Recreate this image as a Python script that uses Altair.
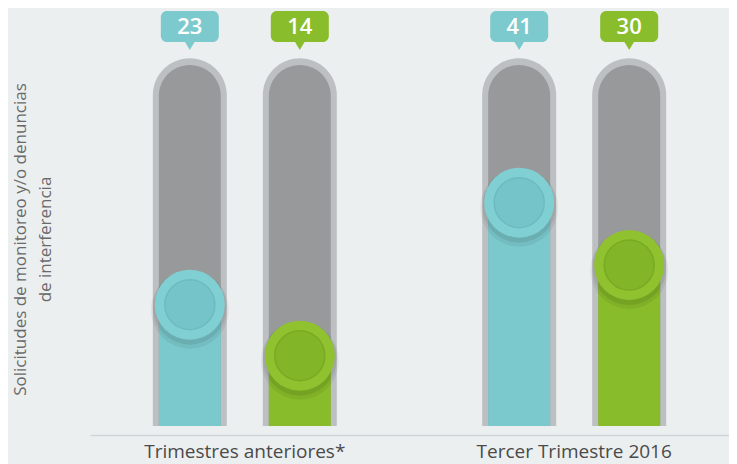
import altair as alt
import pandas as pd

# ---- data ----
GROUPS = ["Trimestres anteriores*", "Trimestres anteriores*",
          "Tercer Trimestre 2016", "Tercer Trimestre 2016"]
SERIES = ["Serie 1", "Serie 2", "Serie 1", "Serie 2"]
VALUES = [23, 14, 41, 30]
GROUP_ORDER = ["Trimestres anteriores*", "Tercer Trimestre 2016"]
SERIES_ORDER = ["Serie 1", "Serie 2"]
Y_TITLE = ["Solicitudes de monitoreo y/o denuncias", "de interferencia"]

df = pd.DataFrame({"grupo": GROUPS, "serie": SERIES, "valor": VALUES})

FONT = "Open Sans"
BG = "#ECEFF0"
# track extent in scale units (style constants)
TRACK_BOTTOM = 1.6
OUTER_TOP = 66.5
INNER_TOP = 65.3

x_enc = alt.X("grupo:N", sort=GROUP_ORDER,
              scale=alt.Scale(paddingInner=0.3, paddingOuter=0.12),
              axis=alt.Axis(title=None, labelAngle=0, ticks=False,
                            domainColor="#D2D5D7", domainWidth=1.5,
                            labelFontSize=19, labelColor="#4A4A4A",
                            labelFont=FONT, labelBaseline="alphabetic",
                            labelPadding=22, labelLimit=0))
xo_enc = alt.XOffset("serie:N", sort=SERIES_ORDER,
                     scale=alt.Scale(paddingInner=0, paddingOuter=0.048))


def col(rng):
    return alt.Color("serie:N", sort=SERIES_ORDER,
                     scale=alt.Scale(domain=SERIES_ORDER, range=rng),
                     legend=None)


base = alt.Chart(df).encode(x=x_enc, xOffset=xo_enc)

y_axis = alt.Axis(title=Y_TITLE, labels=False, ticks=False, domain=False,
                  grid=False, titleFontSize=17, titleColor="#6A6A6A",
                  titleFont=FONT, titleFontWeight="normal",
                  titleAngle=-90, titleAlign="center", titleBaseline="top",
                  titleX=-78, titleY=229, titleLineHeight=25)
y_scale = alt.Scale(domain=[0, 75], zero=True, nice=False)

outer_track = base.mark_bar(width=74, color="#BDC0C2",
                            cornerRadiusTopLeft=37, cornerRadiusTopRight=37).encode(
    y=alt.Y(datum=OUTER_TOP, type="quantitative", scale=y_scale, axis=y_axis),
    y2=alt.Y2(datum=TRACK_BOTTOM))
inner_track = base.mark_bar(width=62, color="#97999B",
                            cornerRadiusTopLeft=31, cornerRadiusTopRight=31).encode(
    y=alt.Y(datum=INNER_TOP, type="quantitative", scale=y_scale),
    y2=alt.Y2(datum=TRACK_BOTTOM))
fill_bar = base.mark_bar(width=62).encode(
    y=alt.Y("valor:Q", scale=y_scale),
    y2=alt.Y2(datum=TRACK_BOTTOM),
    color=col(["#7BC9CD", "#89BC2A"]))
shadow1 = base.mark_circle(size=78 * 78, color="#000000", opacity=0.06,
                           yOffset=5).encode(y=alt.Y("valor:Q", scale=y_scale))
shadow2 = base.mark_circle(size=74 * 74, color="#000000", opacity=0.08,
                           yOffset=3).encode(y=alt.Y("valor:Q", scale=y_scale))
outer_circle = base.mark_circle(size=70 * 70, opacity=1).encode(
    y=alt.Y("valor:Q", scale=y_scale),
    color=col(["#80CFD3", "#8FC22E"]))
inner_circle = base.mark_point(size=50 * 50, filled=True, shape="circle",
                               opacity=1, strokeWidth=1.5).encode(
    y=alt.Y("valor:Q", scale=y_scale),
    fill=alt.Fill("serie:N", sort=SERIES_ORDER,
                  scale=alt.Scale(domain=SERIES_ORDER,
                                  range=["#75C4C9", "#82B527"]),
                  legend=None),
    stroke=alt.Stroke("serie:N", sort=SERIES_ORDER,
                      scale=alt.Scale(domain=SERIES_ORDER,
                                      range=["#6DBBC0", "#79AA23"]),
                      legend=None))
bubble = base.mark_bar(width=58, cornerRadius=6).encode(
    y=alt.value(1), y2=alt.value(32),
    color=col(["#7DCACE", "#8ABD2B"]))
pointer = base.mark_point(shape="triangle-down", filled=True, size=90,
                          opacity=1).encode(
    y=alt.value(36),
    color=col(["#7DCACE", "#8ABD2B"]))
label = base.mark_text(font=FONT, fontSize=22, fontWeight=600,
                       color="#FFFFFF", baseline="middle").encode(
    y=alt.value(17), text=alt.Text("valor:Q"))

chart = alt.layer(
    outer_track, inner_track, fill_bar, shadow1, shadow2,
    outer_circle, inner_circle, bubble, pointer, label
).resolve_scale(color="independent").properties(
    width=639, height=425,
    autosize=alt.AutoSizeParams(type="none"),
    padding={"left": 82, "top": 2, "right": 0, "bottom": 29},
    background=BG,
).configure_view(stroke=None, fill=BG)

chart.save("out.html", embed_options={"renderer": "svg", "actions": False})
